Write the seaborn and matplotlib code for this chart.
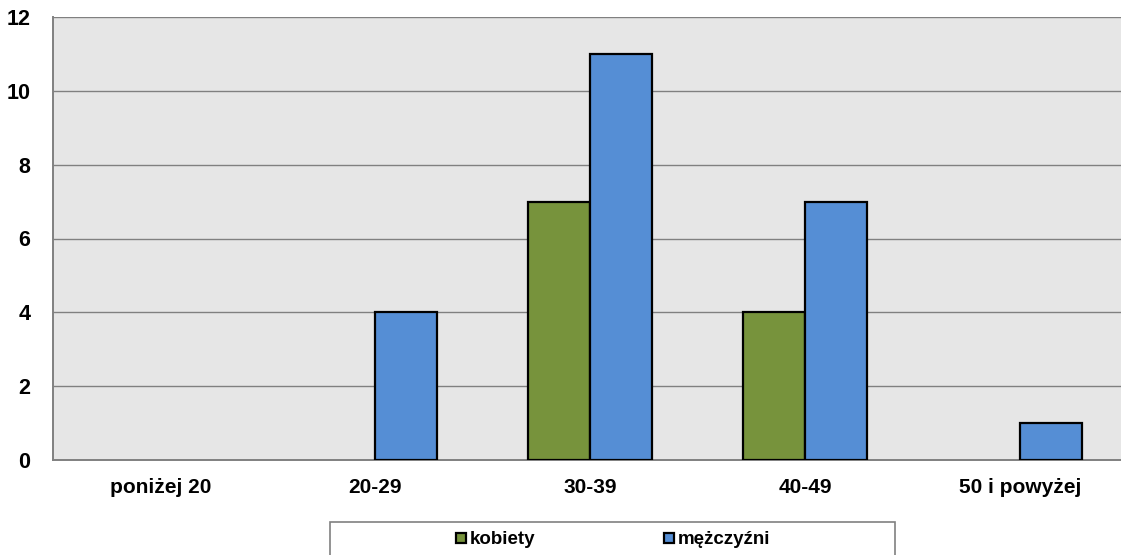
import numpy as np
import pandas as pd
import matplotlib
matplotlib.use("Agg")
import matplotlib.pyplot as plt
from matplotlib.patches import Patch, Rectangle
import seaborn as sns

# --- data ---
categories = ['poniżej 20', '20-29', '30-39', '40-49', '50 i powyżej']
kobiety = [0, 0, 7, 4, 0]
mezczyzni = [0, 4, 11, 7, 1]
series = ['kobiety', 'mężczyźni']
colors = ['#77933C', '#558ED5']

df = pd.DataFrame({
    'kat': categories * 2,
    'plec': [series[0]] * len(categories) + [series[1]] * len(categories),
    'n': kobiety + mezczyzni,
})
# zero bars are not drawn in the original
df = df[df['n'] > 0]

sns.set_style('white')
plt.rcParams['font.family'] = ['Liberation Sans', 'DejaVu Sans']
plt.rcParams['font.weight'] = 'bold'
plt.rcParams['text.color'] = 'black'
plt.rcParams['xtick.labelcolor'] = 'black'
plt.rcParams['ytick.labelcolor'] = 'black'

W, H = 1121, 555
fig = plt.figure(figsize=(W / 100, H / 100), dpi=100)
# plot area runs a bit past the right edge, like the original
ax = fig.add_axes([52.7 / W, 95 / H, 1075 / W, 443 / H])
ax.set_facecolor('#E6E6E6')

sns.barplot(data=df, x='kat', y='n', hue='plec', order=categories,
            hue_order=series, palette=colors, saturation=1, width=0.574,
            edgecolor='black', linewidth=1.6, ax=ax, legend=False, zorder=3)

ax.set_xlim(-0.5, len(categories) - 0.5)
ax.set_ylim(0, 12)
ax.set_yticks(np.arange(0, 13, 2))
ax.yaxis.grid(True, color='#808080', linewidth=1, zorder=0)
ax.set_axisbelow(True)
ax.set_xlabel('')
ax.set_ylabel('')

# x ticks between categories, labels centred
ax.set_xticks(np.arange(len(categories)))
ax.set_xticklabels(categories, fontsize=15, fontweight='bold')
ax.tick_params(axis='x', length=0, pad=13, labelcolor='black')
ax.set_xticks(np.arange(-0.5, len(categories), 1), minor=True)
ax.tick_params(axis='x', which='minor', length=6, color='#808080', width=1.2)
ax.tick_params(axis='y', length=6, color='#808080', width=1.2, labelsize=15.5,
               pad=10, labelcolor='black')
for lab in ax.get_yticklabels():
    lab.set_fontweight('bold')

for s in ['top', 'right']:
    ax.spines[s].set_visible(False)
for s in ['left', 'bottom']:
    ax.spines[s].set_color('#808080')
    ax.spines[s].set_linewidth(1.4)

# legend box (cut off by the bottom edge in the original)
fig.patches.append(Rectangle((330 / W, -10 / H), 565 / W, 43 / H,
                             transform=fig.transFigure, facecolor='white',
                             edgecolor='#808080', linewidth=1.2))
handles = [Patch(facecolor=c, edgecolor='black', linewidth=1.6) for c in colors]
fig.legend(handles, series, loc='center', bbox_to_anchor=(613 / W, 15 / H),
           ncol=2, frameon=False, prop={'size': 13.5, 'weight': 'bold'},
           labelcolor='black', handlelength=0.5, handleheight=0.5,
           handletextpad=0.2, columnspacing=6.9, borderpad=0)

fig.savefig('out.png', dpi=100)
